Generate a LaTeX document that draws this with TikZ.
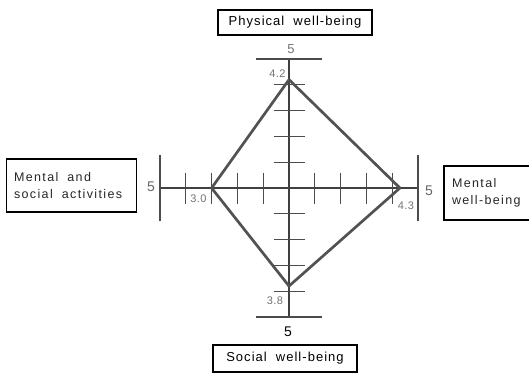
\documentclass[tikz,border=0pt]{standalone}
\usepackage{fontspec}
\setmainfont{Liberation Sans}
\newfontfamily\spacedA[LetterSpace=8]{Liberation Sans}
\newfontfamily\spacedB[LetterSpace=11]{Liberation Sans}
\newfontfamily\spacedC[LetterSpace=4]{Liberation Sans}
\newcommand\wgap{\hspace{9pt}}
\begin{document}
\begin{tikzpicture}[x=1pt,y=-1pt,
  axisline/.style={line width=2pt, draw=black!75},
  endbar/.style={line width=1.6pt, draw=black!70},
  tickmark/.style={line width=1.3pt, draw=black!70},
  diam/.style={line width=2.7pt, draw=black!68, line join=round},
  box/.style={draw=black, line width=1.3pt, inner sep=0pt},
  titletext/.style={font=\spacedA\fontsize{13}{15}\selectfont},
  sidetext/.style={font=\spacedB\fontsize{12.5}{17}\selectfont, text=black!85},
  val/.style={font=\spacedC\fontsize{11}{13}\selectfont, text=black!55, inner sep=0pt},
  five/.style={font=\fontsize{14}{16}\selectfont, inner sep=0pt}
]
\useasboundingbox (0,0) rectangle (529,375);
\clip (0,0) rectangle (529,375);

\def\u{25.8}
\coordinate (O) at (289,188);
\coordinate (T) at (289,{188-5*\u});
\coordinate (B) at (289,{188+5*\u});
\coordinate (L) at ({289-5*\u},188);
\coordinate (R) at ({289+5*\u},188);

% axes
\draw[axisline] (T) -- (B);
\draw[axisline] (L) -- (R);

% end bars
\draw[endbar] ([xshift=-33pt]T) -- ([xshift=33pt]T);
\draw[endbar] ([xshift=-33pt]B) -- ([xshift=33pt]B);
\draw[endbar] ([yshift=-33pt]L) -- ([yshift=33pt]L);
\draw[endbar] ([yshift=-33pt]R) -- ([yshift=33pt]R);

% ticks
\foreach \k in {1,2,3,4}{
  \draw[tickmark] (274,{188-\k*\u}) -- (305,{188-\k*\u});
  \draw[tickmark] (274,{188+\k*\u}) -- (305,{188+\k*\u});
  \draw[tickmark] ({289-\k*\u},172.5) -- ({289-\k*\u},203.5);
  \draw[tickmark] ({289+\k*\u},172.5) -- ({289+\k*\u},203.5);
}

% diamond
\coordinate (vT) at (289,{188-4.2*\u});
\coordinate (vR) at ({289+4.3*\u},188);
\coordinate (vB) at (289,{188+3.8*\u});
\coordinate (vL) at ({289-3.0*\u},188);
\draw[diam] (vT) -- (vR) -- (vB) -- (vL) -- cycle;

% value labels
\node[val] (l42) at (277.5,74) {4.2};
\node[val] (l30) at (198.5,199) {3.0};
\node[val] (l43) at (406,205.5) {4.3};
\node[val] (l38) at (275,300.5) {3.8};

% scale labels
\node[five, text=black!55, font=\fontsize{13}{15}\selectfont] (fT) at (291,49) {5};
\node[five, text=black!60] (fL) at (151,186.5) {5};
\node[five, text=black!60] (fR) at (429,191) {5};
\node[five, text=black] (fB) at (288,331.5) {5};

% boxes
\node[box, titletext, minimum width=154pt, minimum height=25pt] (phys) at (295,22.5) {Physical\wgap well-being};
\node[box, titletext, minimum width=144pt, minimum height=27pt] (soc) at (285,358.5) {Social\wgap well-being};
\node[box, sidetext, minimum width=129pt, minimum height=53pt, text width=115pt, align=left, inner xsep=7.5pt] (msa) at (71.5,185.5) {Mental\wgap and\\social\wgap activities};
\node[box, sidetext, minimum width=92pt, minimum height=54pt, text width=78pt, align=left, inner xsep=8pt] (mwb) at (491,193) {Mental\\well-being};
\end{tikzpicture}
\end{document}
